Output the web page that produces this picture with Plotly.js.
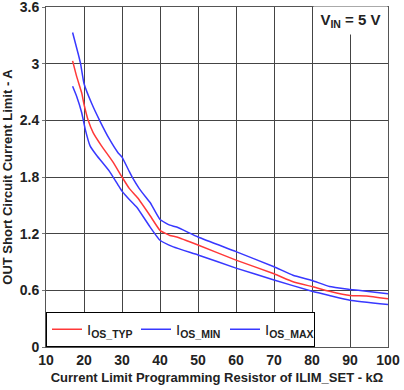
<!DOCTYPE html>
<html><head><meta charset="utf-8">
<script src="https://cdn.plot.ly/plotly-3.0.1.min.js"></script>
<style>html,body{margin:0;padding:0;background:#fff}#plot{width:404px;height:390px}</style>
</head><body><div id="plot"></div>
<script>
const typX = [17, 18.1, 19.4, 20, 21.1, 22.4, 24.6, 27.6, 30, 31.9, 34.1, 37.4, 40, 42.6, 44.4, 50, 60, 70, 75, 80, 84.6, 90, 94.3, 100];
const typY = [3.03, 2.86, 2.69, 2.57, 2.40, 2.27, 2.13, 1.96, 1.80, 1.68, 1.58, 1.39, 1.235, 1.18, 1.165, 1.08, 0.92, 0.775, 0.69, 0.64, 0.59, 0.545, 0.54, 0.51];
const minX = [17, 18.1, 19.4, 20.3, 21.6, 23.3, 26.7, 28.9, 30, 31.5, 33.9, 37.4, 40, 43.5, 50, 60, 70, 80, 84.6, 90, 100];
const minY = [2.76, 2.65, 2.48, 2.31, 2.13, 2.03, 1.86, 1.72, 1.65, 1.58, 1.48, 1.27, 1.13, 1.06, 0.975, 0.835, 0.71, 0.59, 0.545, 0.495, 0.45];
const maxX = [17, 18.5, 19.1, 20, 22, 24.1, 26.7, 28.9, 30, 31.9, 32.8, 34.5, 36.4, 37.4, 40, 42.6, 44.4, 50, 60, 70, 75, 80, 84.6, 90, 94.3, 100];
const maxY = [3.33, 3.10, 3.00, 2.79, 2.58, 2.40, 2.20, 2.06, 2.01, 1.86, 1.79, 1.68, 1.58, 1.53, 1.35, 1.29, 1.27, 1.165, 1.01, 0.85, 0.76, 0.705, 0.64, 0.61, 0.59, 0.565];
const names = ['I<sub><b>OS_TYP</b></sub>', 'I<sub><b>OS_MIN</b></sub>', 'I<sub><b>OS_MAX</b></sub>'];
const xTicks = [10, 20, 30, 40, 50, 60, 70, 80, 90, 100];
const yTicks = [0, 0.6, 1.2, 1.8, 2.4, 3, 3.6];

const F = 'Arial, "Liberation Sans", sans-serif';
const traces = [
  {x: typX, y: typY, name: names[0], mode: 'lines', line: {color: '#ff3838', width: 1.5, shape: 'spline', smoothing: 0.4}},
  {x: minX, y: minY, name: names[1], mode: 'lines', line: {color: '#3838ff', width: 1.5, shape: 'spline', smoothing: 0.4}},
  {x: maxX, y: maxY, name: names[2], mode: 'lines', line: {color: '#3838ff', width: 1.5, shape: 'spline', smoothing: 0.4}}
];
const layout = {
  width: 404, height: 390,
  margin: {l: 46, r: 16, t: 7, b: 43},
  paper_bgcolor: '#fff', plot_bgcolor: '#fff',
  font: {family: F, color: '#222'},
  showlegend: true,
  legend: {x: 0, y: 0, xanchor: 'left', yanchor: 'bottom', orientation: 'h',
    bgcolor: '#fff', bordercolor: '#000', borderwidth: 1,
    font: {family: F, size: 15, color: '#222'}, itemwidth: 30,
    entrywidth: 44, entrywidthmode: 'pixels'},
  xaxis: {range: [10, 100], tickvals: xTicks, ticktext: xTicks.map(String),
    showgrid: true, gridcolor: '#444', gridwidth: 1, zeroline: false,
    showline: true, linecolor: '#555', linewidth: 1, mirror: true, ticks: '',
    ticklabeloverflow: 'allow',
    tickfont: {family: F, size: 14, weight: 'bold', color: '#222'},
    title: {text: 'Current Limit Programming Resistor of ILIM_SET - k\u03A9', standoff: 6,
      font: {family: F, size: 13, weight: 'bold', color: '#222'}}},
  yaxis: {range: [0, 3.6], tickvals: yTicks, ticktext: yTicks.map(v => String(v)),
    showgrid: true, gridcolor: '#444', gridwidth: 1, zeroline: false,
    showline: true, linecolor: '#555', linewidth: 1, mirror: true,
    ticks: 'outside', ticklen: 3, tickcolor: '#777', ticklabeloverflow: 'allow',
    tickfont: {family: F, size: 14, weight: 'bold', color: '#222'},
    title: {text: 'OUT Short Circuit Current Limit - A', standoff: 4,
      font: {family: F, size: 13, weight: 'bold', color: '#222'}}},
  annotations: [{xref: 'paper', yref: 'paper', x: 0.889, y: 0.96, xanchor: 'center', yanchor: 'middle',
    text: 'V<sub>IN</sub> = 5 V', showarrow: false, bgcolor: '#fff', borderpad: 0,
    width: 73, height: 27,
    font: {family: F, size: 15, weight: 'bold', color: '#222'}}]
};
Plotly.newPlot('plot', traces, layout, {displayModeBar: false, staticPlot: true});
</script></body></html>
